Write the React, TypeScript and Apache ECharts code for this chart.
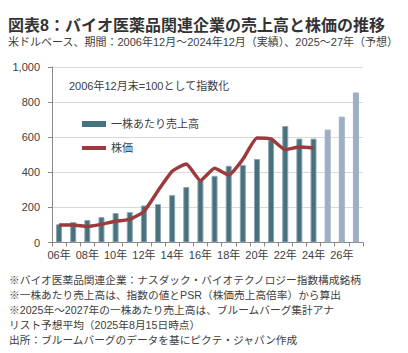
import React, { useEffect, useRef } from "react";
import * as echarts from "echarts";

const categories = ["06年","07年","08年","09年","10年","11年","12年","13年","14年","15年","16年","17年","18年","19年","20年","21年","22年","23年","24年","25年","26年","27年"];
const salesPerShare = [104, 116, 128, 145, 168, 173, 211, 219, 270, 316, 355, 380, 437, 442, 476, 586, 664, 592, 592, 643, 717, 855];
const forecastFrom = 19; // index of 25年
const stockPrice = [100, 100, 91, 104, 121, 132, 176, 295, 406, 448, 353, 423, 384, 474, 596, 590, 529, 544, 538];
const yTicks = { min: 0, max: 1000, interval: 200 };
const titleText = "図表8：バイオ医薬品関連企業の売上高と株価の推移";
const subtitleText = "米ドルベース、期間：2006年12月～2024年12月（実績）、2025～27年（予想）";
const noteText = "2006年12月末=100として指数化";
const footnotes = [
  "※バイオ医薬品関連企業：ナスダック・バイオテクノロジー指数構成銘柄",
  "※一株あたり売上高は、指数の値とPSR（株価売上高倍率）から算出",
  "※2025年～2027年の一株あたり売上高は、ブルームバーグ集計アナ",
  "リスト予想平均（2025年8月15日時点）",
  "出所：ブルームバーグのデータを基にピクテ・ジャパン作成",
];
const seriesNames = ["一株あたり売上高", "株価"];

const FONT = "'Liberation Sans', 'Noto Sans CJK JP', sans-serif";
const TEXT = "#404040";

export default function App() {
  const ref = useRef<HTMLDivElement>(null);
  useEffect(() => {
    if (!ref.current) return;
    const chart = echarts.init(ref.current, undefined, { renderer: "svg" });
    const footY = [280, 295, 310, 324.5, 339.5];
    chart.setOption({
      animation: false,
      backgroundColor: "#ffffff",
      textStyle: { fontFamily: FONT },
      grid: { left: 52, right: 45, top: 67, bottom: 110.5 },
      legend: {
        orient: "vertical",
        left: 77,
        top: 112,
        itemWidth: 24,
        itemHeight: 6,
        itemGap: 10,
        textStyle: { fontSize: 11, color: TEXT, lineHeight: 14, fontFamily: FONT },
        data: [
          { name: seriesNames[0], icon: "rect", itemStyle: { color: "#46737b", borderWidth: 0 } },
          { name: seriesNames[1], icon: "path://M0,0H24V4H0Z", itemStyle: { color: "#9c3a3e", borderWidth: 0 } },
        ],
      },
      xAxis: {
        type: "category",
        data: categories,
        boundaryGap: true,
        axisLine: { lineStyle: { color: "#888888", width: 1 } },
        axisTick: { show: true, interval: 0, length: 4, lineStyle: { color: "#888888" } },
        axisLabel: { interval: 1, fontSize: 11, color: TEXT, margin: 7, fontFamily: FONT },
      },
      yAxis: {
        type: "value",
        min: yTicks.min,
        max: yTicks.max,
        interval: yTicks.interval,
        axisLine: { show: true, lineStyle: { color: "#888888", width: 1 } },
        axisTick: { show: true, length: 4, lineStyle: { color: "#888888" } },
        axisLabel: {
          fontSize: 11,
          color: TEXT,
          margin: 12,
          fontFamily: FONT,
          formatter: (v: number) => v.toLocaleString("en-US"),
        },
        splitLine: { lineStyle: { color: "#d9d9d9", width: 1 } },
      },
      series: [
        {
          name: seriesNames[0],
          type: "bar",
          barWidth: 6,
          itemStyle: { color: "#46737b", borderColor: "#8fa3b5", borderWidth: 1 },
          data: salesPerShare.map((v, i) =>
            i >= forecastFrom
              ? { value: v, itemStyle: { color: "#9eafc3", borderColor: "#9eafc3", borderWidth: 1 } }
              : v
          ),
          z: 2,
        },
        {
          name: seriesNames[1],
          type: "line",
          data: stockPrice,
          smooth: 0.15,
          symbol: "none",
          lineStyle: { color: "#9c3a3e", width: 3.5 },
          itemStyle: { color: "#9c3a3e" },
          z: 3,
        },
      ],
      graphic: [
        {
          type: "text",
          left: 8,
          top: 17,
          style: { text: titleText, font: `bold 16px ${FONT}`, fill: "#333333" },
        },
        {
          type: "text",
          left: 8,
          top: 36,
          style: { text: subtitleText, font: `11px ${FONT}`, fill: TEXT },
        },
        {
          type: "text",
          x: 69,
          y: 86,
          style: { text: noteText, font: `11px ${FONT}`, fill: TEXT, verticalAlign: "middle" },
        },
        ...footnotes.map((t, i) => ({
          type: "text",
          x: 9,
          y: footY[i],
          style: { text: t, font: `10.7px ${FONT}`, fill: TEXT, verticalAlign: "middle" },
        })),
      ],
    });
    return () => chart.dispose();
  }, []);
  return (
    <div
      ref={ref}
      style={{ position: "fixed", left: 0, top: 0, width: 408, height: 353, background: "#fff" }}
    />
  );
}
